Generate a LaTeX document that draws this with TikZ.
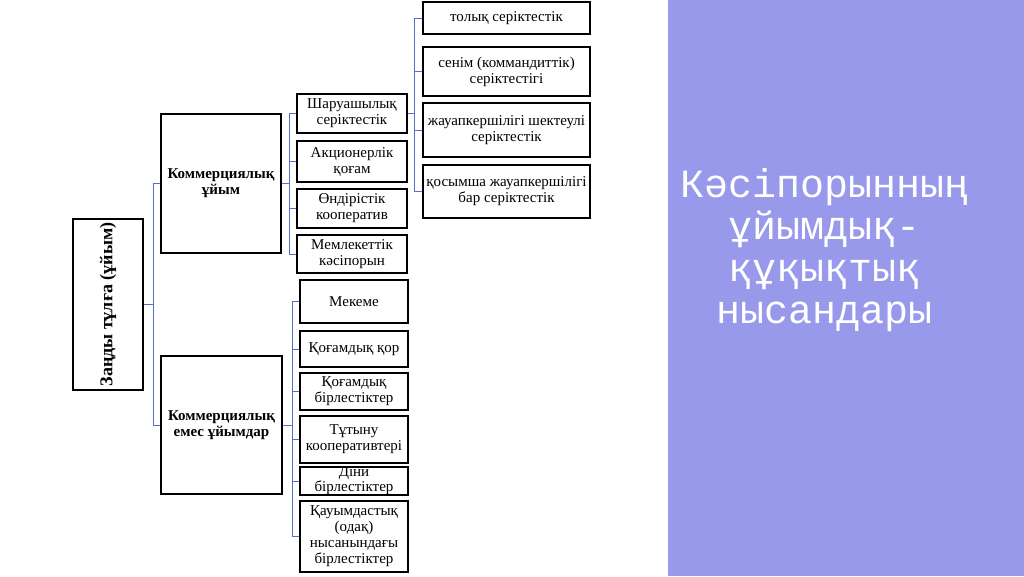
\documentclass[tikz,border=0pt]{standalone}
\usepackage{fontspec}
\setmainfont{Liberation Serif}
\newfontfamily\titlefont{Liberation Mono}
\definecolor{panelblue}{RGB}{153,153,236}
\definecolor{linkblue}{RGB}{84,114,196}
\begin{document}
\begin{tikzpicture}[x=1pt, y=-1pt, box/.style = {draw, line width=1.1pt, inner sep=0pt, align=center, font=\fontsize{15}{16}\selectfont}, link/.style = {draw=linkblue, line width=0.7pt}]
\useasboundingbox (0,0) rectangle (1024,576);

			% right panel
			\fill[panelblue] (668,0) rectangle (1024,576);
			\node[text=white, align=center, font=\titlefont\fontsize{40}{42}\selectfont] (title) at (825,250) {Кәсіпорынның\\ұйымдық-\\құқықтық\\нысандары};

			\node[box, rotate=90, minimum width=171, minimum height=70, font=\bfseries\fontsize{18}{20}\selectfont] (root) at (108,304.5) {Заңды тұлға (ұйым)};
			\node[box, minimum width=120, minimum height=139, font=\bfseries\fontsize{15}{16}\selectfont] (com) at (221,183.5) {Коммерциялық\\ұйым};
			\node[box, minimum width=121, minimum height=138, font=\bfseries\fontsize{15}{16}\selectfont] (non) at (221.5,425) {Коммерциялық\\емес ұйымдар};

			\node[box, minimum width=110, minimum height=39] (sh) at (352,113.5) {Шаруашылық\\серіктестік};
			\node[box, minimum width=110, minimum height=41] (ak) at (352,161.5) {Акционерлік\\қоғам};
			\node[box, minimum width=110, minimum height=39] (ond) at (352,208.5) {Өндірістік\\кооператив};
			\node[box, minimum width=110, minimum height=38] (mem) at (352,254) {Мемлекеттік\\кәсіпорын};

			\node[box, minimum width=167, minimum height=32] (p1) at (506.5,18) {толық серіктестік};
			\node[box, minimum width=167, minimum height=49] (p2) at (506.5,71.5) {сенім (коммандиттік)\\серіктестігі};
			\node[box, minimum width=167, minimum height=54] (p3) at (506.5,130) {жауапкершілігі шектеулі\\серіктестік};
			\node[box, minimum width=167, minimum height=53] (p4) at (506.5,191.5) {қосымша жауапкершілігі\\бар серіктестік};

			\node[box, minimum width=108, minimum height=43] (n1) at (354,301.5) {Мекеме};
			\node[box, minimum width=108, minimum height=36] (n2) at (354,349) {Қоғамдық қор};
			\node[box, minimum width=108, minimum height=37] (n3) at (354,391.5) {Қоғамдық\\бірлестіктер};
			\node[box, minimum width=108, minimum height=47] (n4) at (354,439.5) {Тұтыну\\кооперативтері};
			\node[box, minimum width=108, minimum height=26, font=\fontsize{15}{13.5}\selectfont] (n5) at (354,481) {Діни\\бірлестіктер};
			\node[box, minimum width=108, minimum height=71] (n6) at (354,536.5) {Қауымдастық\\(одақ)\\нысанындағы\\бірлестіктер};

			\coordinate (j1) at (153,304.5);
			\coordinate (j2) at (289,183.5);
			\coordinate (j3) at (414,113.5);
			\coordinate (j4) at (292,425);

			\draw[link] (root) -- (j1);
			\draw[link] (j1) |- (com);
			\draw[link] (j1) |- (non);

			\draw[link] (com) -- (j2);
			\draw[link] (j2) |- (sh);
			\draw[link] (j2) |- (ak);
			\draw[link] (j2) |- (ond);
			\draw[link] (j2) |- (mem);

			\draw[link] (sh) -- (j3);
			\draw[link] (j3) |- (p1);
			\draw[link] (j3) |- (p2);
			\draw[link] (j3) |- (p3);
			\draw[link] (j3) |- (p4);

			\draw[link] (non) -- (j4);
			\draw[link] (j4) |- (n1);
			\draw[link] (j4) |- (n2);
			\draw[link] (j4) |- (n3);
			\draw[link] (j4) |- (n4);
			\draw[link] (j4) |- (n5);
			\draw[link] (j4) |- (n6);
		\end{tikzpicture}
\end{document}
